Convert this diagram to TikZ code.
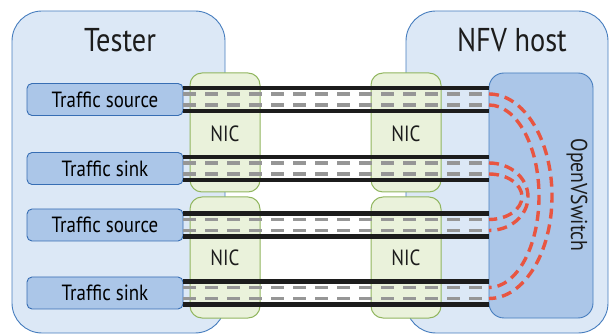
\documentclass[tikz,border=0pt]{standalone}
\usepackage{fontspec}
\setmainfont[FakeStretch=0.86]{PT Sans}
\usetikzlibrary{calc}
\definecolor{hostfill}{RGB}{220,232,246}
\definecolor{hostdraw}{RGB}{70,125,190}
\definecolor{boxfill}{RGB}{171,198,232}
\definecolor{boxdraw}{RGB}{55,110,180}
\definecolor{nicfill}{RGB}{234,242,219}
\definecolor{nicdraw}{RGB}{145,182,95}
\definecolor{redd}{RGB}{232,85,65}
\definecolor{greyd}{RGB}{150,150,150}
\definecolor{blk}{RGB}{28,28,28}
\tikzset{
  host/.style={draw=hostdraw, fill=hostfill, line width=0.9pt, rounded corners=30pt},
  nicbox/.style={draw=nicdraw, fill=nicfill, line width=1pt, rounded corners=12pt},
  ovsbox/.style={draw=hostdraw, fill=boxfill, line width=0.9pt, rounded corners=15pt},
  trafbox/.style={draw=boxdraw, fill=boxfill, line width=0.9pt, rounded corners=5pt,
     minimum width=156pt, minimum height=32pt, inner sep=0pt, font=\fontsize{22}{25}\selectfont},
  blkline/.style={draw=blk, line width=4.2pt},
  greyline/.style={draw=greyd, line width=3.4pt, dash pattern=on 13pt off 9pt},
  redline/.style={draw=redd, line width=3.4pt, dash pattern=on 10pt off 6pt},
  lbl/.style={text=blk, inner sep=0pt},
}
\begin{document}
\begin{tikzpicture}[x=1pt,y=1pt]
\useasboundingbox (0,0) rectangle (609,334);
% hosts
\draw[host] (12,1) rectangle (225,323);
\draw[host] (406,1) rectangle (608,323);
\node[lbl, font=\fontsize{33}{36}\selectfont] (tester) at (120,294) {Tester};
\node[lbl, font=\fontsize{33}{36}\selectfont] (nfv) at (512,294) {NFV host};
% NICs
\draw[nicbox] (190,142) rectangle (260,261);
\draw[nicbox] (190,16) rectangle (260,137);
\draw[nicbox] (371,142) rectangle (441,261);
\draw[nicbox] (371,16) rectangle (441,137);
\node[lbl, font=\fontsize{22}{25}\selectfont] (nic1) at (225,200) {NIC};
\node[lbl, font=\fontsize{22}{25}\selectfont] (nic2) at (225,76) {NIC};
\node[lbl, font=\fontsize{22}{25}\selectfont] (nic3) at (406,200) {NIC};
\node[lbl, font=\fontsize{22}{25}\selectfont] (nic4) at (406,76) {NIC};
% OVS
\draw[ovsbox] (489,16) rectangle (593,261);
\coordinate (ovs) at (489,138);
\node[lbl, rotate=-90, font=\fontsize{23}{26}\selectfont] (ovslbl) at (577,139) {OpenVSwitch};
% traffic boxes
\node[trafbox] (t1) at (105,234.5) {Traffic source};
\node[trafbox] (t2) at (105,165.5) {Traffic sink};
\node[trafbox] (t3) at (105,109) {Traffic source};
\node[trafbox] (t4) at (105,41) {Traffic sink};
% lines
\foreach \n in {t1,t2,t3,t4}{
  \draw[blkline] ($(\n.east)+(0,11.5)$) -- ($(\n.east -| ovs)+(0,11.5)$);
  \draw[blkline] ($(\n.east)+(0,-11.5)$) -- ($(\n.east -| ovs)+(0,-11.5)$);
  \draw[greyline] ($(\n.east)+(0,5.5)$) -- ($(\n.east -| ovs)+(0,5.5)$);
  \draw[greyline] ($(\n.east)+(0,-5.5)$) -- ($(\n.east -| ovs)+(0,-5.5)$);
}
% red arcs
\draw[redline] ($(t1.east -| ovs)+(0,5.5)$) arc[start angle=90, end angle=-90, x radius=63, y radius=102.25];
\draw[redline] ($(t1.east -| ovs)+(0,-5.5)$) arc[start angle=90, end angle=-90, x radius=50, y radius=91.25];
\draw[redline] ($(t2.east -| ovs)+(0,5.5)$) arc[start angle=90, end angle=-90, x radius=39, y radius=33.75];
\draw[redline] ($(t2.east -| ovs)+(0,-5.5)$) arc[start angle=90, end angle=-90, x radius=33, y radius=22.75];
\end{tikzpicture}
\end{document}
